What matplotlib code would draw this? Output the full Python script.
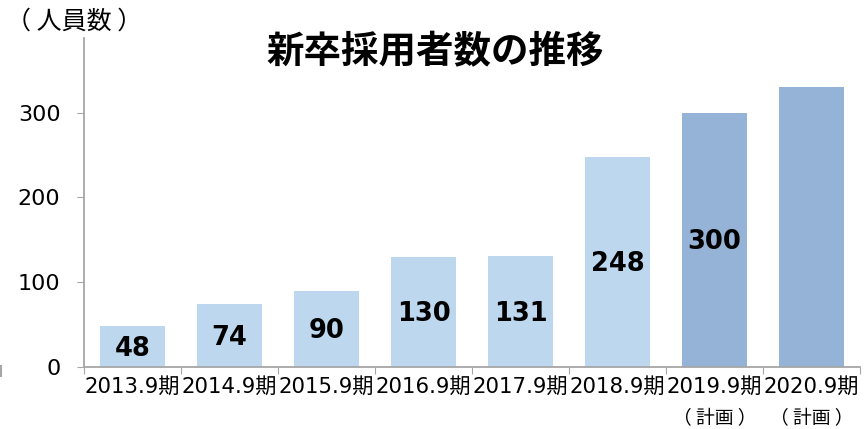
import numpy as np
import matplotlib
matplotlib.use("Agg")
from matplotlib import pyplot as plt
from matplotlib.lines import Line2D

plt.rcParams['font.family'] = ['DejaVu Sans', 'Noto Sans CJK JP']

# hires per fiscal year (last two are plans)
periods = ['2013.9期', '2014.9期', '2015.9期', '2016.9期',
           '2017.9期', '2018.9期', '2019.9期', '2020.9期']
notes = ['', '', '', '', '', '', '（ 計画 ）', '（ 計画 ）']
hires = [48, 74, 90, 130, 131, 248, 300, 330]
show_value = [True, True, True, True, True, True, True, False]
is_plan = [False, False, False, False, False, False, True, True]

actual_color = '#BDD7EE'
plan_color = '#95B3D7'
axis_color = '#A6A6A6'

fig = plt.figure(figsize=(8.64, 4.29), dpi=100)
ax = fig.add_axes([84 / 864, 62 / 429, 776 / 864, 329 / 429])

x = np.arange(len(hires))
colors = [plan_color if p else actual_color for p in is_plan]
ax.bar(x, hires, width=0.67, color=colors, zorder=2)

for xi, v, show in zip(x, hires, show_value):
    if show:
        ax.text(xi, v / 2 - 3, str(v), ha='center', va='center',
                fontsize=18.5, fontweight='bold', color='black', zorder=3)

ax.set_xlim(-0.5, len(hires) - 0.5)
ax.set_ylim(0, 388)
ax.set_yticks([0, 100, 200, 300])
ax.tick_params(axis='y', labelsize=16, length=5, color=axis_color, pad=12)

# category ticks sit on the boundaries between bars
ax.set_xticks(np.arange(len(hires) + 1) - 0.5)
ax.set_xticklabels([])
ax.tick_params(axis='x', length=5, color=axis_color)
for xi, p, n in zip(x, periods, notes):
    ax.annotate(p, (xi, 0), xytext=(0, -7), textcoords='offset points',
                ha='center', va='top', fontsize=15.3,
                family=['DejaVu Sans', 'Noto Sans CJK JP'],
                annotation_clip=False)
    if n:
        ax.annotate(n, (xi, 0), xytext=(0, -29), textcoords='offset points',
                    ha='center', va='top', fontsize=13.5,
                    family=['Noto Sans CJK JP'], annotation_clip=False)

for side in ['top', 'right']:
    ax.spines[side].set_visible(False)
for side in ['left', 'bottom']:
    ax.spines[side].set_color(axis_color)
    ax.spines[side].set_linewidth(1.3)

fig.text(435 / 864, 1 - 52 / 429, '新卒採用者数の推移', ha='center', va='center',
         fontsize=27, fontweight='bold', family=['Noto Sans CJK JP'])
fig.text(74 / 864, 1 - 22 / 429, '（ 人員数 ）', ha='center', va='center',
         fontsize=18, family=['Noto Sans CJK JP'])

# small stray mark at the left edge
fig.add_artist(Line2D([1 / 864, 1 / 864], [1 - 366 / 429, 1 - 376 / 429],
                      color=axis_color, lw=1.5))

fig.savefig('out.png', dpi=100)
